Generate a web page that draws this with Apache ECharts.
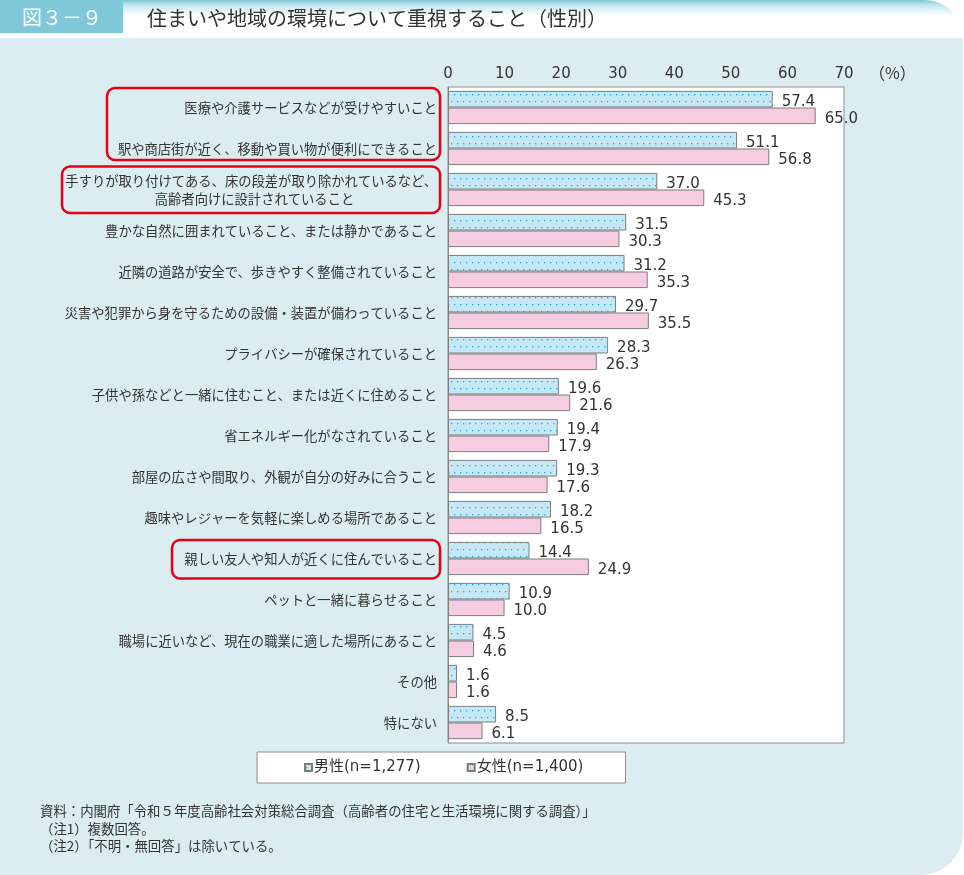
<!DOCTYPE html>
<html><head><meta charset="utf-8">
<script src="https://cdn.jsdelivr.net/npm/echarts@6/dist/echarts.min.js"></script>
<style>html,body{margin:0;padding:0;background:#fff}#c{width:964px;height:875px}</style>
</head><body><div id="c"></div>
<script>
const categories = [
  '医療や介護サービスなどが受けやすいこと',
  '駅や商店街が近く、移動や買い物が便利にできること',
  '手すりが取り付けてある、床の段差が取り除かれているなど、\n高齢者向けに設計されていること　　　　　　 ',
  '豊かな自然に囲まれていること、または静かであること',
  '近隣の道路が安全で、歩きやすく整備されていること',
  '災害や犯罪から身を守るための設備・装置が備わっていること',
  'プライバシーが確保されていること',
  '子供や孫などと一緒に住むこと、または近くに住めること',
  '省エネルギー化がなされていること',
  '部屋の広さや間取り、外観が自分の好みに合うこと',
  '趣味やレジャーを気軽に楽しめる場所であること',
  '親しい友人や知人が近くに住んでいること',
  'ペットと一緒に暮らせること',
  '職場に近いなど、現在の職業に適した場所にあること',
  'その他',
  '特にない'
];
const male = [57.4, 51.1, 37.0, 31.5, 31.2, 29.7, 28.3, 19.6, 19.4, 19.3, 18.2, 14.4, 10.9, 4.5, 1.6, 8.5];
const female = [65.0, 56.8, 45.3, 30.3, 35.3, 35.5, 26.3, 21.6, 17.9, 17.6, 16.5, 24.9, 10.0, 4.6, 1.6, 6.1];
const seriesNames = ['男性(n=1,277)', '女性(n=1,400)'];
const xTicks = {min: 0, max: 70, interval: 10};
const highlighted = [[0, 1], [2, 2], [11, 11]];

const FONT = '"Noto Sans CJK JP", "Noto Sans", sans-serif';
const NUM = '"DejaVu Sans", "Noto Sans CJK JP", sans-serif';

// dotted pattern for male bars
const pc = document.createElement('canvas');
pc.width = 6; pc.height = 14;
const px = pc.getContext('2d');
px.fillStyle = '#c6e7f6'; px.fillRect(0, 0, 6, 14);
px.fillStyle = '#1ea3dc';
px.fillRect(1, 3, 1.3, 1.3);
px.fillRect(4, 10, 1.3, 1.3);

const chart = echarts.init(document.getElementById('c'), null, {renderer: 'canvas'});

const GRID = {left: 448, right: 120, top: 87, bottom: 132};

const option = {
  backgroundColor: '#ffffff',
  animation: false,
  textStyle: {fontFamily: FONT},
  grid: Object.assign({show: true, backgroundColor: '#ffffff', borderColor: '#8c8c8c', borderWidth: 1, containLabel: false}, GRID),
  legend: {
    left: 257, top: 752,
    padding: [8, 42, 8, 47],
    itemGap: 46,
    backgroundColor: '#ffffff',
    borderColor: '#8c8c8c', borderWidth: 1,
    icon: 'rect', itemWidth: 7, itemHeight: 7,
    textStyle: {fontSize: 15, color: '#333', fontFamily: NUM, padding: [0, 0, 0, -3]},
    data: seriesNames
  },
  xAxis: {
    type: 'value', position: 'top',
    min: xTicks.min, max: xTicks.max, interval: xTicks.interval,
    axisLine: {show: false}, axisTick: {show: false}, splitLine: {show: false},
    axisLabel: {fontSize: 15, color: '#333', margin: 5, fontFamily: NUM}
  },
  yAxis: {
    type: 'category', inverse: true, data: categories,
    axisLine: {show: true, lineStyle: {color: '#8c8c8c', width: 1}},
    axisTick: {show: false},
    axisLabel: {fontSize: 13.3, color: '#333', margin: 11, lineHeight: 18, fontFamily: FONT}
  },
  series: [
    {
      name: seriesNames[0], type: 'bar', data: male,
      barGap: '0%', barCategoryGap: '19%',
      itemStyle: {color: {image: pc, repeat: 'repeat'}, borderColor: '#7d7d7d', borderWidth: 1},
      label: {show: true, position: 'right', distance: 9, offset: [0, 3], fontSize: 15, color: '#333', fontFamily: NUM,
        formatter: p => p.value.toFixed(1)}
    },
    {
      name: seriesNames[1], type: 'bar', data: female,
      barGap: '0%', barCategoryGap: '19%',
      itemStyle: {color: '#f6cde0', borderColor: '#7d7d7d', borderWidth: 1},
      label: {show: true, position: 'right', distance: 9, offset: [0, 3], fontSize: 15, color: '#333', fontFamily: NUM,
        formatter: p => p.value.toFixed(1)}
    }
  ]
};
chart.setOption(option);

// background / header / notes
const base = [
  {type: 'rect', z: -100, shape: {x: 0, y: 38, width: 963, height: 837, r: [0, 0, 42, 0]}, style: {fill: '#dbedf1'}},
  {type: 'rect', z: -100, shape: {x: 123, y: 0, width: 840, height: 38, r: [0, 42, 0, 0]},
    style: {fill: new echarts.graphic.LinearGradient(0, 0, 0, 1, [
      {offset: 0, color: '#7cc5d7'}, {offset: 0.12, color: '#bfe3ec'}, {offset: 0.4, color: '#ffffff'}, {offset: 1, color: '#ffffff'}])}},
  {type: 'rect', z: -90, shape: {x: 0, y: 0, width: 123, height: 33}, style: {fill: '#7ec8d9'}},
  {type: 'text', z: -80, x: 22, y: 17, style: {text: '図３－９', fill: '#ffffff', font: '20px ' + FONT, textVerticalAlign: 'middle'}},
  {type: 'text', z: -80, x: 147, y: 18, style: {text: '住まいや地域の環境について重視すること（性別）', fill: '#333', font: '20px ' + FONT, textVerticalAlign: 'middle'}},
  {type: 'text', z: 10, x: 869, y: 73, style: {text: '（%）', fill: '#333', font: '16px ' + FONT, textVerticalAlign: 'middle'}},
  {type: 'text', z: 10, x: 40, y: 811, style: {text: '資料：内閣府「令和５年度高齢社会対策総合調査（高齢者の住宅と生活環境に関する調査）」', fill: '#333', font: '13.4px ' + FONT, textVerticalAlign: 'middle'}},
  {type: 'text', z: 10, x: 40, y: 829, style: {text: '（注1）複数回答。', fill: '#333', font: '13.4px ' + FONT, textVerticalAlign: 'middle'}},
  {type: 'text', z: 10, x: 40, y: 846, style: {text: '（注2）「不明・無回答」は除いている。', fill: '#333', font: '13.4px ' + FONT, textVerticalAlign: 'middle'}}
];

// red highlight boxes around selected category labels
const boxLeft = [107, 62, 172];
const boxPad = [[19.5, 11.5], [23, 23.5], [18.5, 20]];
const boxes = highlighted.map((h, i) => {
  const y0 = chart.convertToPixel({yAxisIndex: 0}, h[0]);
  const y1 = chart.convertToPixel({yAxisIndex: 0}, h[1]);
  const top = y0 - boxPad[i][0], bottom = y1 + boxPad[i][1];
  return {type: 'rect', z: 50, shape: {x: boxLeft[i], y: top, width: 440 - boxLeft[i], height: bottom - top, r: 8},
    style: {fill: null, stroke: '#e60012', lineWidth: 2.5}};
});
chart.setOption({graphic: base.concat(boxes)});
</script>
</body></html>
